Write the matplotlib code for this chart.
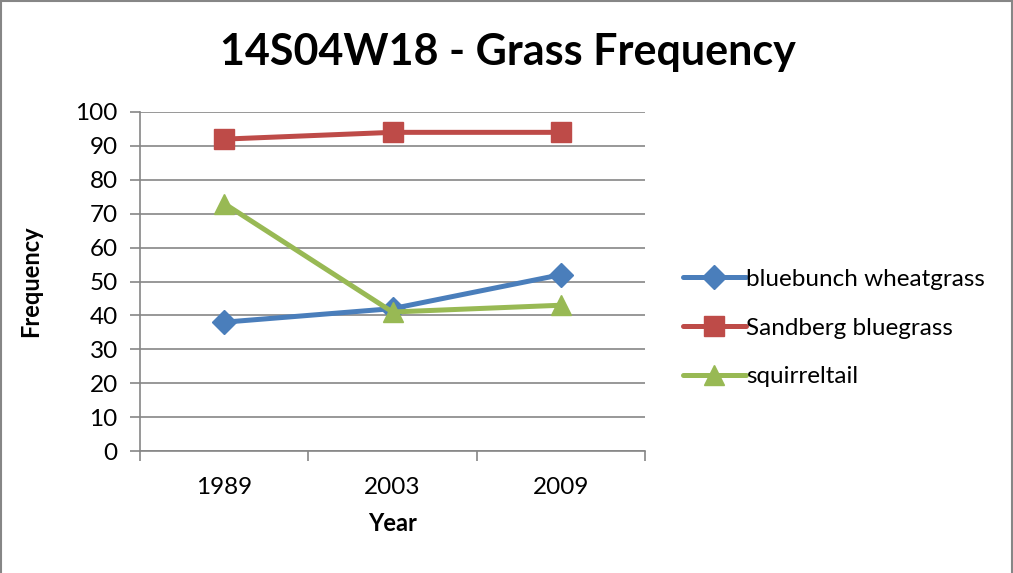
import matplotlib
matplotlib.use("Agg")
import matplotlib.pyplot as plt
from matplotlib.patches import Rectangle
from matplotlib.ticker import FixedLocator, NullFormatter

plt.rcParams['font.family'] = ['Lato', 'DejaVu Sans']

years = ['1989', '2003', '2009']
series_names = ['bluebunch wheatgrass', 'Sandberg bluegrass', 'squirreltail']
bluebunch = [38, 42, 52]
sandberg = [92, 94, 94]
squirreltail = [73, 41, 43]
y_ticks = list(range(0, 101, 10))

colors = ['#4A7EBB', '#BE4B48', '#98B954']
markers = ['D', 's', '^']
msizes = [12, 14, 15]

fig = plt.figure(figsize=(10.13, 5.73), dpi=100)
ax = fig.add_axes([140 / 1013, 1 - 451 / 573, (645 - 140) / 1013, (451 - 112) / 573])

x = list(range(len(years)))
for vals, name, c, m, ms in zip([bluebunch, sandberg, squirreltail], series_names, colors, markers, msizes):
    ax.plot(x, vals, color=c, lw=3.6, marker=m, markersize=ms, label=name, solid_capstyle='round', zorder=3)

ax.set_xlim(-0.5, len(years) - 0.5)
ax.set_ylim(0, 100)
ax.set_yticks(y_ticks)
ax.yaxis.grid(True, color='#868686', lw=1.2)
ax.set_axisbelow(True)

# category labels centred between boundary ticks
ax.xaxis.set_major_locator(FixedLocator([i - 0.5 for i in range(len(years) + 1)]))
ax.xaxis.set_major_formatter(NullFormatter())
ax.xaxis.set_minor_locator(FixedLocator(x))
ax.set_xticklabels(years, minor=True)
ax.tick_params(axis='x', which='major', length=7, width=1.2, color='#868686')
ax.tick_params(axis='x', which='minor', length=0, pad=19, labelsize=17.5)
ax.tick_params(axis='y', length=7, width=1.2, color='#868686', labelsize=17.5, pad=9)

for side in ['top', 'right']:
    ax.spines[side].set_visible(False)
for side in ['left', 'bottom']:
    ax.spines[side].set_color('#868686')
    ax.spines[side].set_linewidth(1.2)

ax.set_xlabel('Year', fontsize=17, fontweight='bold', labelpad=10)
ax.set_ylabel('Frequency', fontsize=17, fontweight='bold', labelpad=24)

fig.text(508 / 1013, 1 - 52 / 573, '14S04W18 - Grass Frequency', ha='center', va='center',
         fontsize=31, fontweight='bold')

leg = fig.legend(loc='center left', bbox_to_anchor=(673 / 1013, 1 - 328 / 573), frameon=False,
                 fontsize=17.5, handlelength=2.6, handletextpad=0.0, labelspacing=1.15, borderaxespad=0)

fig.patches.append(Rectangle((0.5 / 1013, -0.01), 1 - 1.5 / 1013, 1.01 - 0.5 / 573, transform=fig.transFigure,
                             fill=False, edgecolor='#868686', lw=1.5))

fig.savefig('out.png', dpi=100)
